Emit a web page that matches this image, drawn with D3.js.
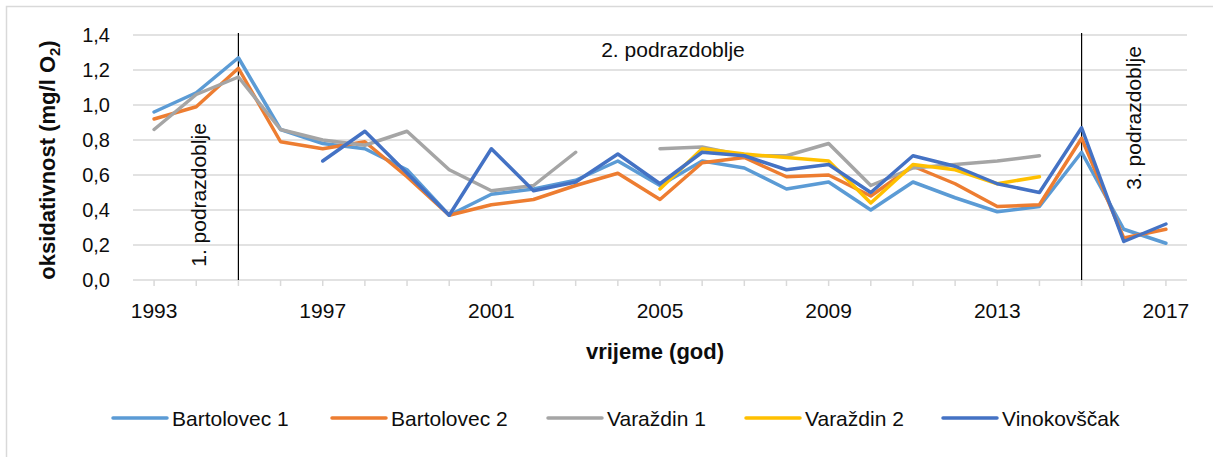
<!DOCTYPE html>
<html>
<head>
<meta charset="utf-8">
<script src="https://cdn.jsdelivr.net/npm/d3@7"></script>
<style>
  body { margin: 0; background: #fff; }
  svg text { font-family: "Liberation Sans", Arial, sans-serif; fill: #0d0d0d; }
</style>
</head>
<body>
<div id="canvas"></div>
<script>
const canvas = d3.select("#canvas");

const years = d3.range(1993, 2018);
const yTicks = [0, 0.2, 0.4, 0.6, 0.8, 1.0, 1.2, 1.4];
const xLabels = [1993, 1997, 2001, 2005, 2009, 2013, 2017];

// null = no measurement
const bartolovec1 = [0.96, 1.07, 1.27, 0.86, 0.78, 0.75, 0.63, 0.37, 0.49, 0.52, 0.57, 0.68, 0.54, 0.68, 0.64, 0.52, 0.56, 0.40, 0.56, 0.47, 0.39, 0.42, 0.73, 0.29, 0.21];
const bartolovec2 = [0.92, 0.99, 1.21, 0.79, 0.75, 0.79, 0.59, 0.37, 0.43, 0.46, 0.54, 0.61, 0.46, 0.67, 0.70, 0.59, 0.60, 0.48, 0.65, 0.55, 0.42, 0.43, 0.81, 0.24, 0.29];
const varazdin1 = [0.86, 1.06, 1.16, 0.86, 0.80, 0.77, 0.85, 0.63, 0.51, 0.54, 0.73, null, 0.75, 0.76, 0.71, 0.71, 0.78, 0.54, 0.64, 0.66, 0.68, 0.71, null, null, null];
const varazdin2 = [null, null, null, null, null, null, null, null, null, null, null, null, 0.52, 0.75, 0.72, 0.70, 0.68, 0.44, 0.66, 0.63, 0.55, 0.59, null, null, null];
const vinokovscak = [null, null, null, null, 0.68, 0.85, 0.61, 0.37, 0.75, 0.51, 0.56, 0.72, 0.55, 0.73, 0.71, 0.63, 0.66, 0.50, 0.71, 0.65, 0.55, 0.50, 0.87, 0.22, 0.32];

const series = [
    { name: "Bartolovec 1", values: bartolovec1, color: "#5B9BD5" },
    { name: "Bartolovec 2", values: bartolovec2, color: "#ED7D31" },
    { name: "Varaždin 1", values: varazdin1, color: "#A5A5A5" },
    { name: "Varaždin 2", values: varazdin2, color: "#FFC000" },
    { name: "Vinokovščak", values: vinokovscak, color: "#4472C4" }
];

const periodLines = [1995, 2015];

const width = 1213;
const height = 457;

const svg = canvas.append("svg")
    .attr("width", width)
    .attr("height", height);

// chart frame
svg.append("rect")
    .attr("x", 6.5).attr("y", 6.5)
    .attr("width", 1300).attr("height", 500)
    .attr("fill", "none")
    .attr("stroke", "#d9d9d9")
    .attr("stroke-width", 1.5);

const x = d3.scalePoint()
    .domain(years)
    .range([133, 1187])
    .padding(0.5);

const y = d3.scaleLinear()
    .domain([0, 1.4])
    .range([280, 35]);

// gridlines
svg.append("g")
    .selectAll("line")
    .data(yTicks)
    .enter().append("line")
    .attr("x1", 133).attr("x2", 1187)
    .attr("y1", d => y(d)).attr("y2", d => y(d))
    .attr("stroke", "#d9d9d9")
    .attr("stroke-width", 1.5);

// y labels
svg.append("g")
    .selectAll("text")
    .data(yTicks)
    .enter().append("text")
    .attr("x", 110)
    .attr("y", d => y(d))
    .attr("dy", "0.36em")
    .attr("text-anchor", "end")
    .style("font-size", "20px")
    .text(d => d3.format(".1f")(d).replace(".", ","));

// x tick marks
svg.append("g")
    .selectAll("line")
    .data(years)
    .enter().append("line")
    .attr("x1", d => x(d)).attr("x2", d => x(d))
    .attr("y1", 280).attr("y2", 286)
    .attr("stroke", "#d9d9d9")
    .attr("stroke-width", 1.5);

svg.append("g")
    .selectAll("text")
    .data(xLabels)
    .enter().append("text")
    .attr("x", d => x(d))
    .attr("y", 318)
    .attr("text-anchor", "middle")
    .style("font-size", "21px")
    .text(d => d);

// period separators
svg.append("g")
    .selectAll("line")
    .data(periodLines)
    .enter().append("line")
    .attr("x1", d => x(d)).attr("x2", d => x(d))
    .attr("y1", 33).attr("y2", 280)
    .attr("stroke", "#000")
    .attr("stroke-width", 1.2);

// series
const line = d3.line()
    .defined(d => d.v !== null)
    .x(d => x(d.year))
    .y(d => y(d.v));

svg.append("g")
    .selectAll("path")
    .data(series)
    .enter().append("path")
    .attr("d", s => line(s.values.map((v, i) => ({ year: years[i], v: v }))))
    .attr("fill", "none")
    .attr("stroke", s => s.color)
    .attr("stroke-width", 3.5)
    .attr("stroke-linejoin", "round")
    .attr("stroke-linecap", "round");

// period labels
svg.append("text")
    .attr("x", 673).attr("y", 57)
    .attr("text-anchor", "middle")
    .style("font-size", "21px")
    .text("2. podrazdoblje");

svg.append("text")
    .attr("transform", "translate(206,195) rotate(-90)")
    .attr("text-anchor", "middle")
    .style("font-size", "21px")
    .text("1. podrazdoblje");

svg.append("text")
    .attr("transform", "translate(1141,118) rotate(-90)")
    .attr("text-anchor", "middle")
    .style("font-size", "21px")
    .text("3. podrazdoblje");

// axis titles
const yTitle = svg.append("text")
    .attr("transform", "translate(55,160) rotate(-90)")
    .attr("text-anchor", "middle")
    .style("font-size", "22px")
    .style("font-weight", "bold");
yTitle.append("tspan").text("oksidativnost (mg/l O");
yTitle.append("tspan").attr("dy", 5).style("font-size", "15px").text("2");
yTitle.append("tspan").attr("dy", -5).text(")");

svg.append("text")
    .attr("x", 655).attr("y", 359)
    .attr("text-anchor", "middle")
    .style("font-size", "22px")
    .style("font-weight", "bold")
    .text("vrijeme (god)");

// legend
const legendX = [113, 332, 548, 746, 943];
const legend = svg.append("g")
    .selectAll("g")
    .data(series)
    .enter().append("g")
    .attr("transform", (d, i) => `translate(${legendX[i]},418)`);

legend.append("line")
    .attr("x1", 0).attr("x2", 54)
    .attr("stroke", d => d.color)
    .attr("stroke-width", 3.5)
    .attr("stroke-linecap", "round");

legend.append("text")
    .attr("x", 59)
    .attr("dy", "0.36em")
    .style("font-size", "21px")
    .text(d => d.name);
</script>
</body>
</html>
